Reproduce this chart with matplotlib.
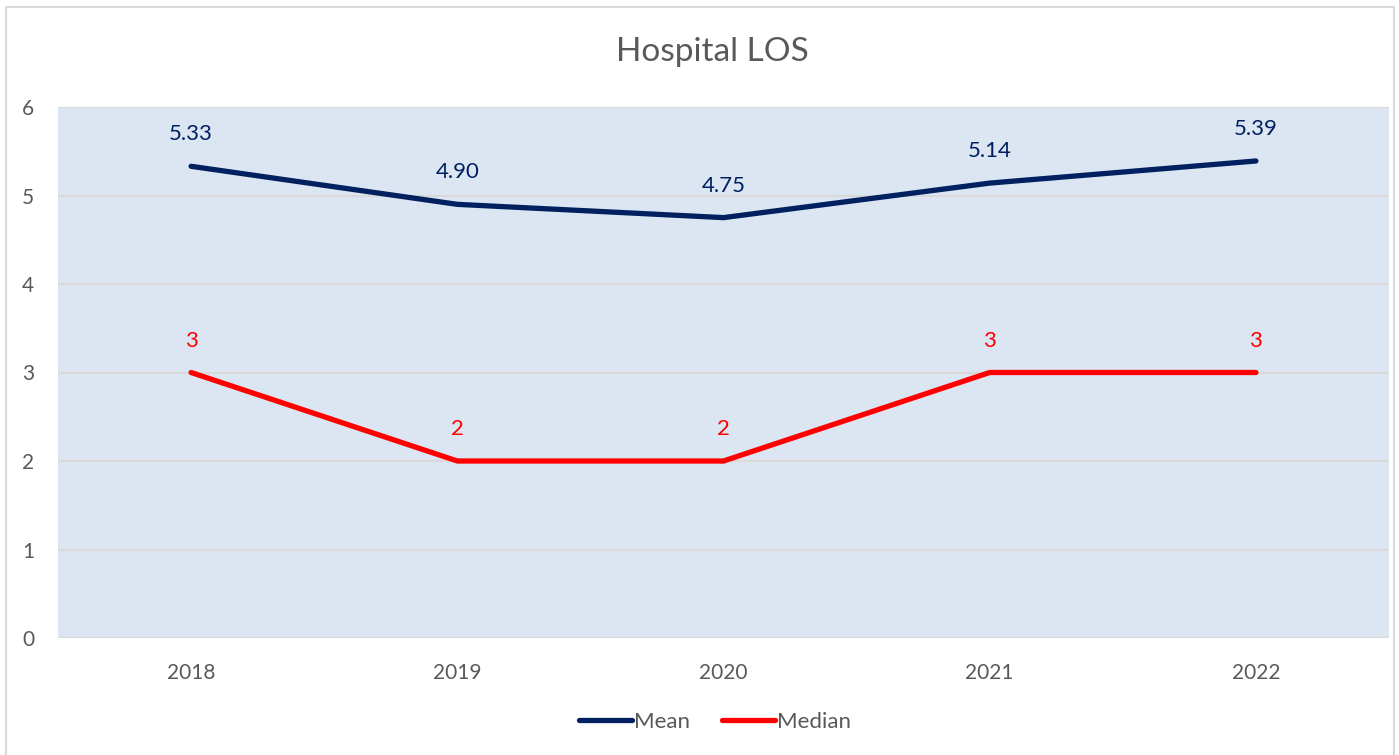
import numpy as np
import matplotlib.pyplot as plt
from matplotlib.patches import Rectangle

plt.rcParams['font.family'] = ['Lato', 'DejaVu Sans']

years = ['2018', '2019', '2020', '2021', '2022']
mean_los = [5.33, 4.90, 4.75, 5.14, 5.39]
median_los = [3, 2, 2, 3, 3]

fig = plt.figure(figsize=(13.99, 7.55), dpi=100)
ax = fig.add_axes([58 / 1399, 1 - 638 / 755, (1389 - 58) / 1399, (638 - 107) / 755])

# outer chart border
fig.patches.append(Rectangle((6 / 1399, -0.01), 1388 / 1399, 1 - 7 / 755 + 0.01,
                             transform=fig.transFigure, fill=False,
                             edgecolor='#D9D9D9', lw=1.5))

x = np.arange(len(years))
ax.set_facecolor('#DCE6F2')
ax.plot(x, mean_los, color='#002060', lw=3.8, solid_capstyle='round', label='Mean', zorder=3)
ax.plot(x, median_los, color='#FF0000', lw=3.8, solid_capstyle='round', label='Median', zorder=3)

for xi, v in zip(x, mean_los):
    ax.annotate(f'{v:.2f}', (xi, v), xytext=(0, 23), textcoords='offset points',
                ha='center', va='center', color='#002060', fontsize=16)
for xi, v in zip(x, median_los):
    ax.annotate(f'{v}', (xi, v), xytext=(0, 23), textcoords='offset points',
                ha='center', va='center', color='#FF0000', fontsize=16)

ax.set_xlim(-0.5, 4.5)
ax.set_ylim(0, 6)
ax.set_yticks(range(0, 7))
ax.set_xticks(x)
ax.set_xticklabels(years)
ax.yaxis.grid(True, color='#D9D9D9', lw=1.5)
ax.set_axisbelow(True)
for s in ax.spines.values():
    s.set_visible(False)
ax.tick_params(length=0, colors='#595959', labelsize=15)
ax.tick_params(axis='y', pad=17)
ax.tick_params(axis='x', pad=18)

fig.text(712 / 1399, 1 - 52 / 755, 'Hospital LOS', ha='center', va='center',
         fontsize=24, color='#595959')

fig.legend(loc='center', bbox_to_anchor=(715 / 1399, 1 - 722 / 755), ncol=2, frameon=False,
           fontsize=16, labelcolor='#595959', handlelength=2.4, handletextpad=0.1,
           columnspacing=1.4)

fig.savefig('out.png', dpi=100)
